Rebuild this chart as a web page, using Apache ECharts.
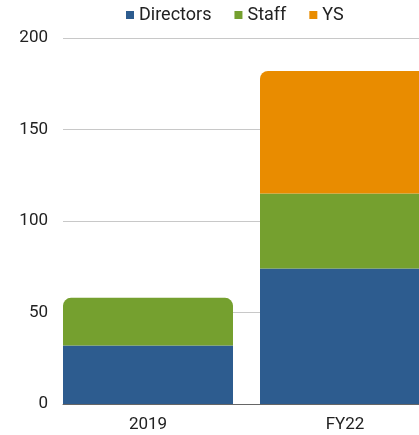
<!DOCTYPE html>
<html>
<head>
<meta charset="utf-8">
<script src="https://cdn.jsdelivr.net/npm/echarts@6/dist/echarts.min.js"></script>
<style>
  html, body { margin: 0; padding: 0; background: #fff; overflow: hidden; }
  /* wider than the window: the right bar runs off the visible edge */
  #chart { width: 444px; height: 435px; }
</style>
</head>
<body>
<div id="chart"></div>
<script>
// data
const categories = ['2019', 'FY22']
const directors = [32, 74]
const staff = [26, 41]
const ys = [null, 67]
const yMax = 200
const yStep = 50

const myChart = echarts.init(document.getElementById('chart'))

// grid 0: gridlines, y labels and axis line (starts at the bar edge)
// grid 1: the bars and the category labels
const option = {
  color: ['#2d5c8f', '#75a02f', '#e98c00'],
  textStyle: { fontFamily: 'Roboto' },
  legend: {
    top: 1,
    left: 121,
    itemWidth: 8,
    itemHeight: 8,
    itemGap: 23,
    icon: 'rect',
    textStyle: { fontSize: 18, color: '#222', fontFamily: 'Roboto' },
    data: ['Directors', 'Staff', 'YS']
  },
  grid: [
    { left: 63, right: 25, top: 38, bottom: 31 },
    { left: 49.5, right: 0.5, top: 38, bottom: 31 }
  ],
  xAxis: [
    {
      gridIndex: 0,
      type: 'category',
      data: categories,
      axisTick: { show: false },
      axisLabel: { show: false },
      axisLine: { show: true, lineStyle: { color: '#666', width: 1 } }
    },
    {
      gridIndex: 1,
      type: 'category',
      data: categories,
      axisTick: { show: false },
      axisLine: { show: false },
      axisLabel: { fontSize: 17, color: '#222', margin: 12 }
    }
  ],
  yAxis: [
    {
      gridIndex: 0,
      type: 'value',
      min: 0,
      max: yMax,
      interval: yStep,
      axisLine: { show: false },
      axisTick: { show: false },
      splitLine: { lineStyle: { color: '#c8c8c8', width: 1 } },
      axisLabel: { fontSize: 17, color: '#222', margin: 15 }
    },
    {
      gridIndex: 1,
      type: 'value',
      min: 0,
      max: yMax,
      interval: yStep,
      show: false,
      splitLine: { show: false }
    }
  ],
  series: [
    {
      name: 'Directors',
      type: 'bar',
      stack: 'total',
      xAxisIndex: 1,
      yAxisIndex: 1,
      barWidth: 170,
      data: directors
    },
    {
      name: 'Staff',
      type: 'bar',
      stack: 'total',
      xAxisIndex: 1,
      yAxisIndex: 1,
      barWidth: 170,
      data: staff.map((v, i) => i === 0
        ? { value: v, itemStyle: { borderRadius: [8, 8, 0, 0] } }
        : v)
    },
    {
      name: 'YS',
      type: 'bar',
      stack: 'total',
      xAxisIndex: 1,
      yAxisIndex: 1,
      barWidth: 170,
      itemStyle: { borderRadius: [8, 8, 0, 0] },
      data: ys
    }
  ]
}
myChart.setOption(option, true)
</script>
</body>
</html>
